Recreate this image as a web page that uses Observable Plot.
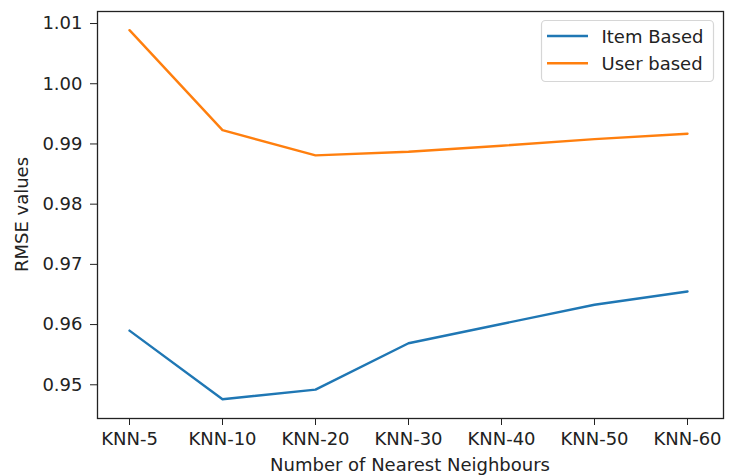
<!DOCTYPE html>
<html><head><meta charset="utf-8">
<script src="https://cdn.jsdelivr.net/npm/d3@7"></script>
<script src="https://cdn.jsdelivr.net/npm/@observablehq/plot@0.6"></script>
<style>body{margin:0;background:#fff} svg{display:block}</style>
</head><body><div id="chart"></div>
<script>
const categories = ["KNN-5", "KNN-10", "KNN-20", "KNN-30", "KNN-40", "KNN-50", "KNN-60"];
const itemBased = [0.9590, 0.9476, 0.9492, 0.9569, 0.9601, 0.9633, 0.9655];
const userBased = [1.0089, 0.9923, 0.9881, 0.9887, 0.9897, 0.9908, 0.9917];
const seriesNames = ["Item Based", "User based"];
const seriesColors = ["#1f77b4", "#ff7f0e"];
const yTicks = [0.95, 0.96, 0.97, 0.98, 0.99, 1.00, 1.01];
const xLabel = "Number of Nearest Neighbours";
const yLabel = "RMSE values";

const rows = [];
categories.forEach((k, i) => rows.push({k, v: itemBased[i], s: seriesNames[0]}));
categories.forEach((k, i) => rows.push({k, v: userBased[i], s: seriesNames[1]}));

const W = 729, H = 475, ML = 97, MR = 6, MT = 11, MB = 57;
const FONT = "DejaVu Sans, sans-serif";

const chart = Plot.plot({
  width: W, height: H,
  marginLeft: ML, marginRight: MR, marginTop: MT, marginBottom: MB,
  style: {fontFamily: FONT, fontSize: "18px", color: "#222", background: "#fff"},
  x: {type: "point", domain: categories, range: [127, 689], padding: 0},
  y: {domain: [0.9444, 1.012]},
  color: {domain: seriesNames, range: seriesColors},
  marks: [
    Plot.axisX({tickSize: 7, tickPadding: 7, label: null, stroke: "#222", fill: "#222"}),
    Plot.axisY({ticks: yTicks, tickFormat: ".2f", tickSize: 7, tickPadding: 8, label: null, stroke: "#222", fill: "#222"}),
    Plot.line(rows, {x: "k", y: "v", z: "s", stroke: "s", strokeWidth: 2.4}),
    Plot.frame({stroke: "#222", strokeWidth: 1.3})
  ]
});
document.getElementById("chart").appendChild(chart);

const svg = d3.select(chart);
svg.append("text")
  .attr("x", (ML + W - MR) / 2).attr("y", 471)
  .attr("text-anchor", "middle").attr("fill", "#222")
  .style("font-family", FONT).style("font-size", "18px")
  .text(xLabel);
const yc = (MT + H - MB) / 2;
svg.append("text")
  .attr("x", 28).attr("y", yc)
  .attr("transform", `rotate(-90,28,${yc})`)
  .attr("text-anchor", "middle").attr("fill", "#222")
  .style("font-family", FONT).style("font-size", "18px")
  .text(yLabel);

const lg = svg.append("g");
lg.append("rect").attr("x", 541.5).attr("y", 20.5).attr("width", 172).attr("height", 61)
  .attr("rx", 4).attr("fill", "#fff").attr("fill-opacity", 0.8)
  .attr("stroke", "#d6d6d6").attr("stroke-width", 1.2);
seriesNames.forEach((name, i) => {
  const cy = 36 + i * 27.3;
  lg.append("line").attr("x1", 547).attr("x2", 588).attr("y1", cy).attr("y2", cy)
    .attr("stroke", seriesColors[i]).attr("stroke-width", 2.4);
  lg.append("text").attr("x", 601.5).attr("y", cy + 6.5).attr("fill", "#222")
    .attr("text-anchor", "start")
    .style("font-family", FONT).style("font-size", "18px").text(name);
});
</script>
</body></html>
